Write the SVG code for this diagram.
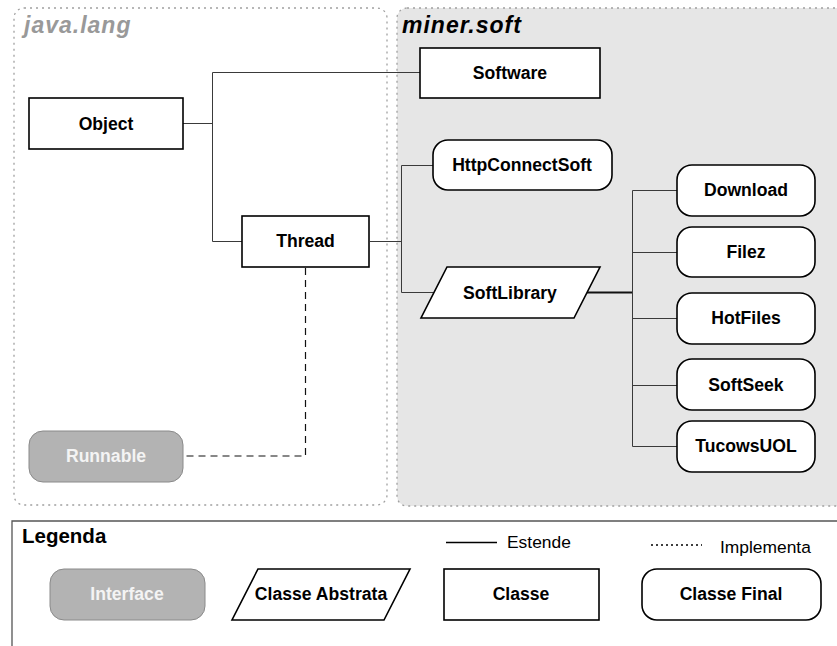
<svg xmlns="http://www.w3.org/2000/svg" width="837" height="646" viewBox="0 0 837 646">
<style>
.pkg{fill:none;stroke:#a0a0a0;stroke-width:1.3;stroke-dasharray:2,4}
.cls{fill:#fff;stroke:#000;stroke-width:1.6}
.ifc{fill:#b3b3b3;stroke:#8a8a8a;stroke-width:1}
.t{font-family:"Liberation Sans",Arial,sans-serif;font-weight:bold;font-size:17.6px;text-anchor:middle;fill:#000}
.ti{fill:#f4f4f4}
.ext{fill:none;stroke:#3a3a3a;stroke-width:1}
.impl{fill:none;stroke:#111;stroke-width:1.2;stroke-dasharray:7,5}
.ttl{font-family:"Liberation Sans",Arial,sans-serif;font-weight:bold;font-style:italic;font-size:23px;letter-spacing:1px}
.lg{font-family:"Liberation Sans",Arial,sans-serif;font-size:17.4px;fill:#000}
</style>
<rect width="837" height="646" fill="#fff"/>
<g id="pkg-java-lang">
<rect class="pkg" x="14" y="8" width="373" height="497" rx="10"/>
<text class="ttl" x="24" y="33" fill="#999">java.lang</text>
</g>
<g id="pkg-miner-soft">
<rect x="397" y="8" width="460" height="498" rx="10" fill="#e6e6e6" stroke="#a0a0a0" stroke-width="1.3" stroke-dasharray="2,4"/>
<text class="ttl" x="402" y="33" fill="#000">miner.soft</text>
</g>
<g id="connectors">
<polyline class="ext" points="183,123.5 212.5,123.5"/>
<polyline class="ext" points="420,72.5 212.5,72.5 212.5,241.5 242,241.5"/>
<polyline class="ext" points="370,241.5 401.5,241.5"/>
<polyline class="ext" points="433,165.5 401.5,165.5 401.5,292.5 434,292.5"/>
<polyline class="ext" points="587,292.5 632,292.5" style="stroke-width:2;stroke:#111"/>
<polyline class="ext" points="677,190.5 632.5,190.5 632.5,446.5 677,446.5"/>
<polyline class="ext" points="632,252.5 677,252.5"/>
<polyline class="ext" points="632,318.5 677,318.5"/>
<polyline class="ext" points="632,385.5 677,385.5"/>
<polyline class="impl" points="305.5,268 305.5,456 183,456"/>
</g>
<g id="node-object">
<rect class="cls" x="29" y="98" width="154" height="51"/>
<text class="t" x="106" y="130">Object</text>
</g>
<g id="node-software">
<rect class="cls" x="420" y="48" width="180" height="50"/>
<text class="t" x="510" y="79">Software</text>
</g>
<g id="node-thread">
<rect class="cls" x="242" y="216" width="127" height="51"/>
<text class="t" x="305.5" y="247">Thread</text>
</g>
<g id="node-runnable">
<rect class="ifc" x="29" y="431" width="154" height="51" rx="14"/>
<text class="t ti" x="106" y="462">Runnable</text>
</g>
<g id="node-httpconnectsoft">
<rect class="cls" x="433" y="140" width="179" height="50" rx="15"/>
<text class="t" x="522" y="171">HttpConnectSoft</text>
</g>
<g id="node-softlibrary">
<polygon class="cls" points="447,267 600,267 574,318 421,318"/>
<text class="t" x="510" y="299">SoftLibrary</text>
</g>
<g id="node-download">
<rect class="cls" x="677" y="165" width="138" height="51" rx="15"/>
<text class="t" x="746" y="196">Download</text>
</g>
<g id="node-filez">
<rect class="cls" x="677" y="227" width="138" height="50" rx="15"/>
<text class="t" x="746" y="258">Filez</text>
</g>
<g id="node-hotfiles">
<rect class="cls" x="677" y="293" width="138" height="51" rx="15"/>
<text class="t" x="746" y="324">HotFiles</text>
</g>
<g id="node-softseek">
<rect class="cls" x="677" y="359" width="138" height="51" rx="15"/>
<text class="t" x="746" y="391">SoftSeek</text>
</g>
<g id="node-tucowsuol">
<rect class="cls" x="677" y="421" width="138" height="51" rx="15"/>
<text class="t" x="746" y="452">TucowsUOL</text>
</g>
<g id="legend">
<polyline points="12,660 12,521 850,521" fill="none" stroke="#555" stroke-width="1.3"/>
<text x="22" y="543" style="font-family:'Liberation Sans',Arial,sans-serif;font-weight:bold;font-size:20.5px">Legenda</text>
<line x1="446" y1="542.5" x2="497" y2="542.5" stroke="#000" stroke-width="1.3"/>
<text class="lg" x="507" y="548">Estende</text>
<line x1="651" y1="545" x2="702" y2="545" stroke="#000" stroke-width="1.3" stroke-dasharray="2,3"/>
<text class="lg" x="720" y="553">Implementa</text>
<rect class="ifc" x="50" y="569" width="155" height="51" rx="14"/>
<text class="t ti" x="127" y="600">Interface</text>
<polygon class="cls" points="258,569 410,569 384,620 232,620"/>
<text class="t" x="321" y="600">Classe Abstrata</text>
<rect class="cls" x="444" y="569" width="155" height="51"/>
<text class="t" x="521" y="600">Classe</text>
<rect class="cls" x="642" y="569" width="179" height="51" rx="15"/>
<text class="t" x="731" y="600">Classe Final</text>
</g>
</svg>
